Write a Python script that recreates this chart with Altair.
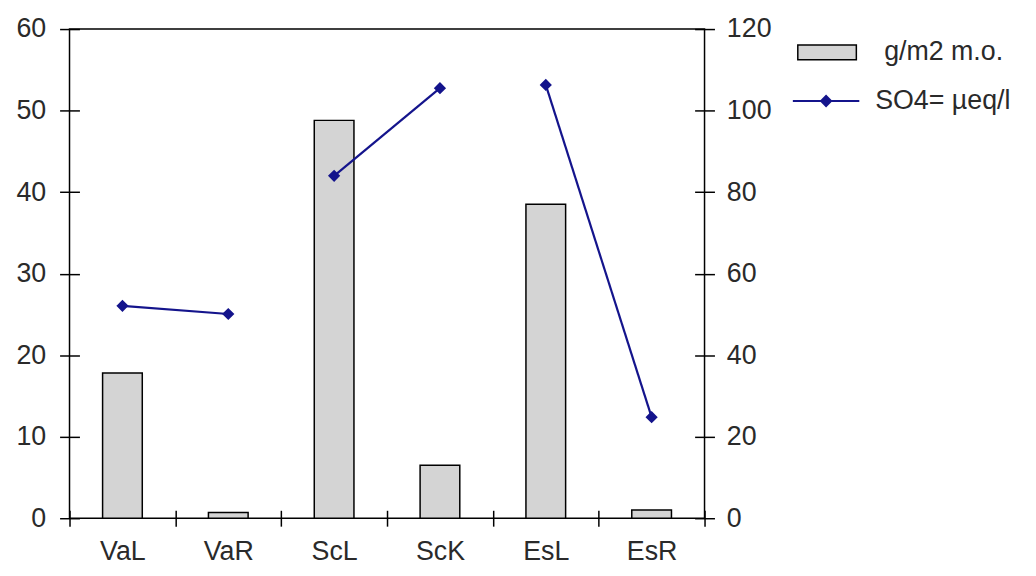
import altair as alt
import pandas as pd

categories = ["VaL", "VaR", "ScL", "ScK", "EsL", "EsR"]
groups = ["Va", "Va", "Sc", "Sc", "Es", "Es"]
mo_values = [17.8, 0.7, 48.8, 6.5, 38.5, 1.0]
so4_values = [52.1, 50.1, 84.0, 105.5, 106.3, 24.8]
left_ticks = [0, 10, 20, 30, 40, 50, 60]
right_ticks = [0, 20, 40, 60, 80, 100, 120]

bar_name = "g/m2 m.o."
line_name = "SO4= µeq/l"

df = pd.DataFrame({
    "cat": categories,
    "grp": groups,
    "mo": mo_values,
    "so4": so4_values,
    "bar_series": [bar_name] * len(categories),
    "line_series": [line_name] * len(categories),
})

FONT = "Liberation Sans"
FS = 27
TXT = "#2a2a2a"
NAVY = "#14148c"

x_enc = alt.X(
    "cat:N", sort=categories, title=None,
    scale=alt.Scale(paddingInner=0, paddingOuter=0),
    axis=alt.Axis(
        labelAngle=0, domain=False, offset=-8, tickSize=16, tickBand="extent",
        tickColor="black", tickWidth=1.5, labelPadding=13,
        labelFont=FONT, labelFontSize=FS, labelColor=TXT,
    ),
)

bars = alt.Chart(df).mark_bar(
    width=alt.RelativeBandSize(0.375), stroke="black", strokeWidth=1.5
).encode(
    x=x_enc,
    y=alt.Y(
        "mo:Q", title=None,
        scale=alt.Scale(domain=[0, 60], nice=False),
        axis=alt.Axis(
            orient="left", values=left_ticks, domain=False, grid=False,
            offset=-10, tickSize=20, tickColor="black", tickWidth=1.5,
            labelPadding=14, labelFont=FONT, labelFontSize=FS, labelColor=TXT,
        ),
    ),
    fill=alt.Fill(
        "bar_series:N",
        scale=alt.Scale(domain=[bar_name], range=["#d4d4d4"]),
        legend=alt.Legend(
            title=None, orient="none", legendX=733, legendY=-7, padding=0,
            symbolType="M-1,-0.25H1V0.25H-1Z", symbolSize=3481,
            symbolStrokeColor="black", symbolStrokeWidth=1.5,
            labelFont=FONT, labelFontSize=FS, labelColor=TXT, labelOffset=27,
        ),
    ),
)

line = alt.Chart(df).mark_line(
    strokeWidth=2.2,
    point=alt.OverlayMarkDef(shape="diamond", size=90, filled=True, color=NAVY),
).encode(
    x=x_enc,
    y=alt.Y(
        "so4:Q", title=None,
        scale=alt.Scale(domain=[0, 120], nice=False),
        axis=alt.Axis(
            orient="right", values=right_ticks, domain=False, grid=False,
            offset=-10, tickSize=20, tickColor="black", tickWidth=1.5,
            labelPadding=12, labelFont=FONT, labelFontSize=FS, labelColor=TXT,
        ),
    ),
    detail="grp:N",
    stroke=alt.Stroke(
        "line_series:N",
        scale=alt.Scale(domain=[line_name], range=[NAVY]),
        legend=alt.Legend(
            title=None, orient="none", legendX=728, legendY=38, padding=0,
            symbolType="M-1,0H1M-0.15,0L0,-0.15L0.15,0L0,0.15Z", symbolSize=4489,
            symbolStrokeColor=NAVY, symbolFillColor=NAVY, symbolStrokeWidth=2,
            labelFont=FONT, labelFontSize=FS, labelColor=TXT, labelOffset=15,
        ),
    ),
)

chart = alt.layer(bars, line).resolve_scale(
    y="independent", fill="independent", stroke="independent"
).properties(
    width=640, height=493,
    autosize=alt.AutoSizeParams(type="none"),
    padding={"left": 62, "top": 19, "right": 326, "bottom": 56},
    background="white",
).configure_view(stroke="black", strokeWidth=1.5)

chart.save("out.html", embed_options={"renderer": "svg", "actions": False})
